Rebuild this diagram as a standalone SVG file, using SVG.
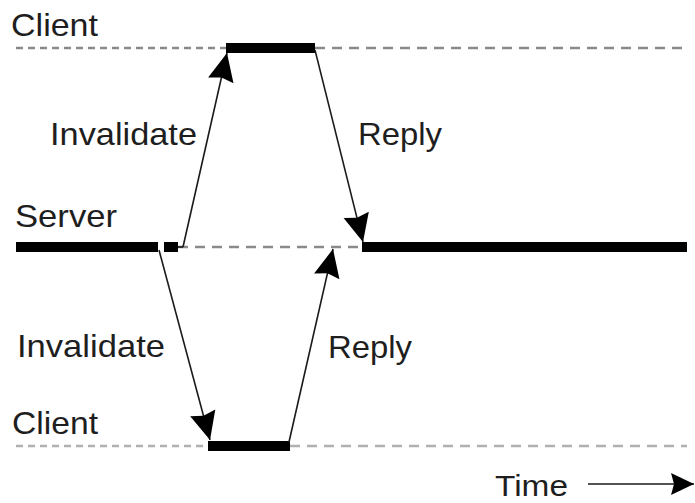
<svg xmlns="http://www.w3.org/2000/svg" width="695" height="503" viewBox="0 0 695 503">
<style>
.lbl{font-family:"Liberation Sans",Arial,sans-serif;font-size:32px;fill:#1e1e1e}
.dashL{stroke:#8a8a8a;stroke-width:2.5;stroke-dasharray:7 5;fill:none}
.dashR{stroke:#8a8a8a;stroke-width:2.5;stroke-dasharray:10 7;fill:none}
.dashLb{stroke:#b0b0b0;stroke-width:2.5;stroke-dasharray:7 5;fill:none}
.dashRb{stroke:#b0b0b0;stroke-width:2.5;stroke-dasharray:10 7;fill:none}
.bar{fill:#000}
.msg{stroke:#1a1a1a;stroke-width:1.6;fill:none}
</style>
<defs>
<marker id="ah" viewBox="-30 -14 31 28" refX="0" refY="0" markerWidth="31" markerHeight="28" markerUnits="userSpaceOnUse" orient="auto">
<path d="M0,0 L-28,-13 L-25,0 L-28,13 Z" fill="#000"/>
</marker>
<marker id="ahT" viewBox="-24 -12 25 24" refX="0" refY="0" markerWidth="25" markerHeight="24" markerUnits="userSpaceOnUse" orient="auto">
<path d="M0,0 L-23,-11 L-20,0 L-23,11 Z" fill="#000"/>
</marker>
</defs>

<g id="client-top">
<text class="lbl" x="11" y="36" textLength="87" lengthAdjust="spacingAndGlyphs">Client</text>
<line class="dashL" x1="16" y1="48" x2="226" y2="48"/>
<line class="dashR" x1="315" y1="48" x2="687" y2="48"/>
<rect class="bar" x="226" y="43" width="89" height="10"/>
</g>

<g id="server">
<text class="lbl" x="15" y="227" textLength="102" lengthAdjust="spacingAndGlyphs">Server</text>
<rect class="bar" x="16" y="242" width="142" height="10"/>
<rect class="bar" x="164" y="242" width="14" height="10"/>
<line class="dashR" x1="178" y1="247" x2="362" y2="247"/>
<rect class="bar" x="362" y="242" width="325" height="10"/>
</g>

<g id="client-bottom">
<text class="lbl" x="12" y="434" textLength="86" lengthAdjust="spacingAndGlyphs">Client</text>
<line class="dashLb" x1="16" y1="446" x2="208" y2="446"/>
<line class="dashRb" x1="290" y1="446" x2="687" y2="446"/>
<rect class="bar" x="208" y="441" width="82" height="10"/>
</g>

<g id="time">
<text class="lbl" x="495" y="496" font-size="30" textLength="73" lengthAdjust="spacingAndGlyphs" style="font-size:30px">Time</text>
</g>

<g id="labels">
<text class="lbl" x="50" y="145" textLength="147" lengthAdjust="spacingAndGlyphs">Invalidate</text>
<text class="lbl" x="358" y="145" textLength="84" lengthAdjust="spacingAndGlyphs">Reply</text>
<text class="lbl" x="17" y="357" textLength="148" lengthAdjust="spacingAndGlyphs">Invalidate</text>
<text class="lbl" x="328" y="358" textLength="84" lengthAdjust="spacingAndGlyphs">Reply</text>
</g>

<g id="connectors">
<line class="msg" x1="178" y1="247" x2="183" y2="247"/>
<line class="msg" x1="183" y1="247" x2="227" y2="53" marker-end="url(#ah)"/>
<line class="msg" x1="315" y1="50" x2="363" y2="242" marker-end="url(#ah)"/>
<line class="msg" x1="159" y1="250" x2="210" y2="440" marker-end="url(#ah)"/>
<line class="msg" x1="289" y1="442" x2="333" y2="249" marker-end="url(#ah)"/>
<line class="msg" x1="588" y1="484" x2="694" y2="484" marker-end="url(#ahT)"/>
</g>
</svg>
